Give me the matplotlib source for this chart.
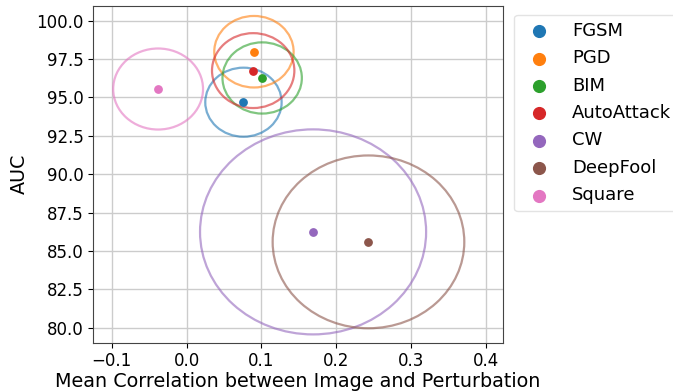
import matplotlib
matplotlib.use("Agg")
import matplotlib.pyplot as plt
from matplotlib.patches import Ellipse

attacks = ["FGSM", "PGD", "BIM", "AutoAttack", "CW", "DeepFool", "Square"]
mean_corr = [0.076, 0.090, 0.101, 0.089, 0.169, 0.243, -0.038]
mean_auc = [94.69, 97.98, 96.27, 96.75, 86.24, 85.59, 95.55]
std_corr = [0.051, 0.053, 0.053, 0.055, 0.151, 0.128, 0.060]
std_auc = [2.25, 2.33, 2.32, 2.44, 6.68, 5.63, 2.64]
colors = ["#1f77b4", "#ff7f0e", "#2ca02c", "#d62728", "#9467bd", "#8c564b", "#e377c2"]

plt.rcParams["font.family"] = ["DejaVu Sans"]
plt.rcParams["font.size"] = 12

fig = plt.figure(figsize=(6.73, 3.92), dpi=100)
ax = fig.add_axes([0.1386, 0.1258, 0.6088, 0.8597])

for name, x, y, sx, sy, c in zip(attacks, mean_corr, mean_auc, std_corr, std_auc, colors):
    ax.scatter(x, y, s=28, color=c, label=name, zorder=3)
    ax.add_patch(Ellipse((x, y), 2 * sx, 2 * sy, fill=False, edgecolor=c,
                         linewidth=1.6, alpha=0.6, zorder=2))

ax.set_xlim(-0.1246, 0.4227)
ax.set_ylim(79.02, 100.98)
ax.set_xticks([-0.1, 0.0, 0.1, 0.2, 0.3, 0.4])
ax.set_yticks([80.0, 82.5, 85.0, 87.5, 90.0, 92.5, 95.0, 97.5, 100.0])
ax.yaxis.set_major_formatter(matplotlib.ticker.FormatStrFormatter("%.1f"))
ax.tick_params(labelsize=12)
ax.grid(True, color="#cccccc", linewidth=1.0)
ax.set_axisbelow(True)
for sp in ax.spines.values():
    sp.set_color("#444444")

ax.set_xlabel("Mean Correlation between Image and Perturbation", fontsize=13.8, labelpad=1)
ax.set_ylabel("AUC", fontsize=13.8, labelpad=5)

ax.legend(loc="upper left", bbox_to_anchor=(1.005, 1.0), markerscale=1.6,
          fontsize=13, frameon=True, edgecolor="#dddddd", labelspacing=0.52)

fig.savefig("out.png", dpi=100)
